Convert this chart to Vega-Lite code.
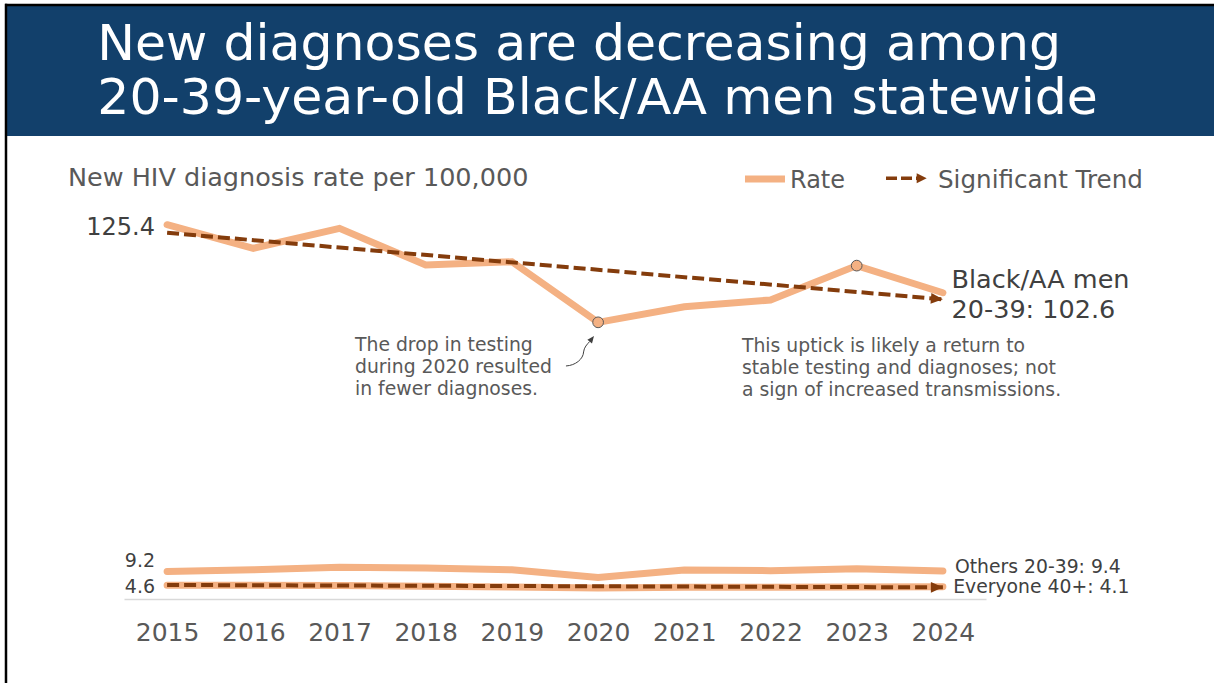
{
  "$schema": "https://vega.github.io/schema/vega-lite/v6.json",
  "width": 862,
  "height": 388,
  "autosize": {"type": "none"},
  "padding": {"left": 124, "top": 211, "right": 228, "bottom": 84},
  "background": "white",
  "config": {
    "view": {"stroke": null},
    "font": "DejaVu Sans",
    "axisY": {"disable": true},
    "axisX": {
      "grid": false,
      "ticks": false,
      "tickSize": 0,
      "labelFontSize": 25,
      "labelColor": "#595959",
      "labelFont": "DejaVu Sans",
      "labelPadding": 21,
      "domainColor": "#d9d9d9",
      "domainWidth": 1.5,
      "labelFlush": false,
      "labelOverlap": false
    }
  },
  "datasets": {
    "rates": [
      {"year": 2015, "group": "Black/AA men 20-39", "rate": 125.4},
      {"year": 2016, "group": "Black/AA men 20-39", "rate": 117.5},
      {"year": 2017, "group": "Black/AA men 20-39", "rate": 124.2},
      {"year": 2018, "group": "Black/AA men 20-39", "rate": 111.9},
      {"year": 2019, "group": "Black/AA men 20-39", "rate": 113.0},
      {"year": 2020, "group": "Black/AA men 20-39", "rate": 92.7},
      {"year": 2021, "group": "Black/AA men 20-39", "rate": 97.9},
      {"year": 2022, "group": "Black/AA men 20-39", "rate": 100.2},
      {"year": 2023, "group": "Black/AA men 20-39", "rate": 111.7},
      {"year": 2024, "group": "Black/AA men 20-39", "rate": 102.6},
      {"year": 2015, "group": "Others 20-39", "rate": 9.2},
      {"year": 2016, "group": "Others 20-39", "rate": 9.8},
      {"year": 2017, "group": "Others 20-39", "rate": 10.6},
      {"year": 2018, "group": "Others 20-39", "rate": 10.4},
      {"year": 2019, "group": "Others 20-39", "rate": 9.8},
      {"year": 2020, "group": "Others 20-39", "rate": 7.2},
      {"year": 2021, "group": "Others 20-39", "rate": 9.7},
      {"year": 2022, "group": "Others 20-39", "rate": 9.5},
      {"year": 2023, "group": "Others 20-39", "rate": 10.1},
      {"year": 2024, "group": "Others 20-39", "rate": 9.4},
      {"year": 2015, "group": "Everyone 40+", "rate": 4.6},
      {"year": 2016, "group": "Everyone 40+", "rate": 4.6},
      {"year": 2017, "group": "Everyone 40+", "rate": 4.5},
      {"year": 2018, "group": "Everyone 40+", "rate": 4.3},
      {"year": 2019, "group": "Everyone 40+", "rate": 4.0},
      {"year": 2020, "group": "Everyone 40+", "rate": 3.7},
      {"year": 2021, "group": "Everyone 40+", "rate": 3.9},
      {"year": 2022, "group": "Everyone 40+", "rate": 3.9},
      {"year": 2023, "group": "Everyone 40+", "rate": 4.0},
      {"year": 2024, "group": "Everyone 40+", "rate": 4.1}
    ],
    "trend": [
      {"year": 2015, "group": "Black/AA men 20-39", "value": 122.7},
      {"year": 2024, "group": "Black/AA men 20-39", "value": 100.4},
      {"year": 2015, "group": "Everyone 40+", "value": 4.7},
      {"year": 2024, "group": "Everyone 40+", "value": 3.9}
    ]
  },
  "layer": [
    {
      "data": {"values": [{}]},
      "mark": {"type": "rect", "color": "#12406b"},
      "encoding": {
        "x": {"datum": 2013.143, "type": "quantitative"},
        "x2": {"datum": 2027.2},
        "y": {"datum": 198.99, "type": "quantitative"},
        "y2": {"datum": 155.11}
      }
    },
    {
      "data": {"values": [{}]},
      "mark": {"type": "rule", "color": "#000000", "strokeWidth": 2.5},
      "encoding": {
        "x": {"datum": 2013.12, "type": "quantitative"},
        "x2": {"datum": 2027.2},
        "y": {"datum": 198.99, "type": "quantitative"}
      }
    },
    {
      "data": {"values": [{}]},
      "mark": {"type": "rule", "color": "#000000", "strokeWidth": 2.5},
      "encoding": {
        "x": {"datum": 2013.131, "type": "quantitative"},
        "y": {"datum": 199.4, "type": "quantitative"},
        "y2": {"datum": -31}
      }
    },
    {
      "data": {"values": [{}]},
      "mark": {"type": "text", "text": ["New diagnoses are decreasing among", "20-39-year-old Black/AA men statewide"], "align": "left", "baseline": "alphabetic", "fontSize": 50.5, "lineHeight": 54.3, "color": "#ffffff", "font": "DejaVu Sans"},
      "encoding": {
        "x": {"datum": 2014.19, "type": "quantitative"},
        "y": {"datum": 180.57, "type": "quantitative"}
      }
    },
    {
      "data": {"values": [{}]},
      "mark": {"type": "text", "text": "New HIV diagnosis rate per 100,000", "align": "left", "baseline": "alphabetic", "fontSize": 25.5, "color": "#595959", "font": "DejaVu Sans"},
      "encoding": {
        "x": {"datum": 2013.85, "type": "quantitative"},
        "y": {"datum": 138.36, "type": "quantitative"}
      }
    },
    {
      "data": {"values": [{}]},
      "mark": {"type": "rule", "color": "#f4b183", "strokeWidth": 7},
      "encoding": {
        "x": {"datum": 2021.704, "type": "quantitative"},
        "x2": {"datum": 2022.168},
        "y": {"datum": 140.7, "type": "quantitative"}
      }
    },
    {
      "data": {"values": [{}]},
      "mark": {"type": "text", "text": "Rate", "align": "left", "baseline": "alphabetic", "fontSize": 24, "color": "#595959", "font": "DejaVu Sans"},
      "encoding": {
        "x": {"datum": 2022.226, "type": "quantitative"},
        "y": {"datum": 137.69, "type": "quantitative"}
      }
    },
    {
      "data": {"values": [{}]},
      "mark": {"type": "rule", "color": "#843c0c", "strokeWidth": 3.5, "strokeDash": [11, 4]},
      "encoding": {
        "x": {"datum": 2023.34, "type": "quantitative"},
        "x2": {"datum": 2023.73},
        "y": {"datum": 141.0, "type": "quantitative"}
      }
    },
    {
      "data": {"values": [{}]},
      "mark": {"type": "point", "shape": "M 0 0 L -1 -0.5 L -1 0.5 Z", "size": 400, "filled": true, "fill": "#843c0c", "strokeWidth": 0, "opacity": 1},
      "encoding": {
        "x": {"datum": 2023.812, "type": "quantitative"},
        "y": {"datum": 141.0, "type": "quantitative"}
      }
    },
    {
      "data": {"values": [{}]},
      "mark": {"type": "text", "text": "Significant Trend", "align": "left", "baseline": "alphabetic", "fontSize": 24.6, "color": "#595959", "font": "DejaVu Sans"},
      "encoding": {
        "x": {"datum": 2023.943, "type": "quantitative"},
        "y": {"datum": 137.69, "type": "quantitative"}
      }
    },
    {
      "data": {"name": "rates"},
      "mark": {"type": "line", "color": "#f4b183", "strokeWidth": 7, "strokeCap": "round"},
      "encoding": {
        "x": {
          "field": "year",
          "type": "quantitative",
          "scale": {"domain": [2014.5, 2024.5], "nice": false, "zero": false},
          "axis": {"values": [2015, 2016, 2017, 2018, 2019, 2020, 2021, 2022, 2023, 2024], "format": "d", "title": null}
        },
        "y": {
          "field": "rate",
          "type": "quantitative",
          "scale": {"domain": [0, 130], "nice": false, "zero": false}
        },
        "detail": {"field": "group"}
      }
    },
    {
      "data": {"name": "trend"},
      "mark": {"type": "line", "color": "#843c0c", "strokeWidth": 4, "strokeDash": [12, 5]},
      "encoding": {
        "x": {"field": "year", "type": "quantitative"},
        "y": {"field": "value", "type": "quantitative"},
        "detail": {"field": "group"}
      }
    },
    {
      "data": {"name": "trend"},
      "transform": [{"filter": "datum.year == 2024 && datum.group == 'Black/AA men 20-39'"}],
      "mark": {"type": "point", "shape": "M 0 0 L -1 -0.45 L -1 0.45 Z", "size": 576, "angle": 4.9, "filled": true, "fill": "#843c0c", "strokeWidth": 0, "opacity": 1},
      "encoding": {
        "x": {"field": "year", "type": "quantitative"},
        "y": {"field": "value", "type": "quantitative"}
      }
    },
    {
      "data": {"name": "trend"},
      "transform": [{"filter": "datum.year == 2024 && datum.group == 'Everyone 40+'"}],
      "mark": {"type": "point", "shape": "M 0 0 L -1 -0.45 L -1 0.45 Z", "size": 576, "angle": 0, "filled": true, "fill": "#843c0c", "strokeWidth": 0, "opacity": 1},
      "encoding": {
        "x": {"field": "year", "type": "quantitative"},
        "y": {"field": "value", "type": "quantitative"}
      }
    },
    {
      "data": {"name": "rates"},
      "transform": [{"filter": "datum.group == 'Black/AA men 20-39' && (datum.year == 2020 || datum.year == 2023)"}],
      "mark": {"type": "point", "filled": true, "fill": "#f4b183", "stroke": "#595959", "strokeWidth": 1, "size": 115, "opacity": 1},
      "encoding": {
        "x": {"field": "year", "type": "quantitative"},
        "y": {"field": "rate", "type": "quantitative"}
      }
    },
    {
      "data": {"values": [{}]},
      "mark": {"type": "text", "text": "125.4", "align": "right", "baseline": "alphabetic", "fontSize": 24, "color": "#404040", "font": "DejaVu Sans"},
      "encoding": {
        "x": {"datum": 2014.86, "type": "quantitative"},
        "y": {"datum": 121.94, "type": "quantitative"}
      }
    },
    {
      "data": {"values": [{}]},
      "mark": {"type": "text", "text": ["Black/AA men", "20-39: 102.6"], "align": "left", "baseline": "alphabetic", "fontSize": 25.5, "lineHeight": 29.4, "color": "#404040", "font": "DejaVu Sans"},
      "encoding": {
        "x": {"datum": 2024.1, "type": "quantitative"},
        "y": {"datum": 104.09, "type": "quantitative"}
      }
    },
    {
      "data": {"values": [{}]},
      "mark": {"type": "text", "text": "9.2", "align": "right", "baseline": "alphabetic", "fontSize": 19, "color": "#404040", "font": "DejaVu Sans"},
      "encoding": {
        "x": {"datum": 2014.86, "type": "quantitative"},
        "y": {"datum": 10.82, "type": "quantitative"}
      }
    },
    {
      "data": {"values": [{}]},
      "mark": {"type": "text", "text": "4.6", "align": "right", "baseline": "alphabetic", "fontSize": 19, "color": "#404040", "font": "DejaVu Sans"},
      "encoding": {
        "x": {"datum": 2014.86, "type": "quantitative"},
        "y": {"datum": 1.91, "type": "quantitative"}
      }
    },
    {
      "data": {"values": [{}]},
      "mark": {"type": "text", "text": "Others 20-39: 9.4", "align": "left", "baseline": "alphabetic", "fontSize": 18.8, "color": "#404040", "font": "DejaVu Sans"},
      "encoding": {
        "x": {"datum": 2024.14, "type": "quantitative"},
        "y": {"datum": 8.61, "type": "quantitative"}
      }
    },
    {
      "data": {"values": [{}]},
      "mark": {"type": "text", "text": "Everyone 40+: 4.1", "align": "left", "baseline": "alphabetic", "fontSize": 18.8, "color": "#404040", "font": "DejaVu Sans"},
      "encoding": {
        "x": {"datum": 2024.12, "type": "quantitative"},
        "y": {"datum": 1.91, "type": "quantitative"}
      }
    },
    {
      "data": {"values": [{}]},
      "mark": {"type": "text", "text": ["The drop in testing", "during 2020 resulted", "in fewer diagnoses."], "align": "left", "baseline": "alphabetic", "fontSize": 18.8, "lineHeight": 22, "color": "#595959", "font": "DejaVu Sans"},
      "encoding": {
        "x": {"datum": 2017.18, "type": "quantitative"},
        "y": {"datum": 83.18, "type": "quantitative"}
      }
    },
    {
      "data": {"values": [{}]},
      "mark": {"type": "text", "text": ["This uptick is likely a return to", "stable testing and diagnoses; not", "a sign of increased transmissions."], "align": "left", "baseline": "alphabetic", "fontSize": 18.8, "lineHeight": 22, "color": "#595959", "font": "DejaVu Sans"},
      "encoding": {
        "x": {"datum": 2021.669, "type": "quantitative"},
        "y": {"datum": 82.85, "type": "quantitative"}
      }
    },
    {
      "data": {"values": [{}]},
      "mark": {"type": "point", "shape": "M -0.78 0.83 C -0.25 0.8 0.18 0.45 0.2 0.05 C 0.22 -0.2 0.4 -0.38 0.54 -0.53", "size": 1296, "filled": false, "stroke": "#404040", "strokeWidth": 1, "opacity": 1},
      "encoding": {
        "x": {"datum": 2019.79, "type": "quantitative"},
        "y": {"datum": 83.08, "type": "quantitative"}
      }
    },
    {
      "data": {"values": [{}]},
      "mark": {"type": "point", "shape": "M 0.778 -0.833 L 0.667 -0.422 L 0.411 -0.633 Z", "size": 1296, "filled": true, "fill": "#404040", "strokeWidth": 0, "opacity": 1},
      "encoding": {
        "x": {"datum": 2019.79, "type": "quantitative"},
        "y": {"datum": 83.08, "type": "quantitative"}
      }
    }
  ]
}
